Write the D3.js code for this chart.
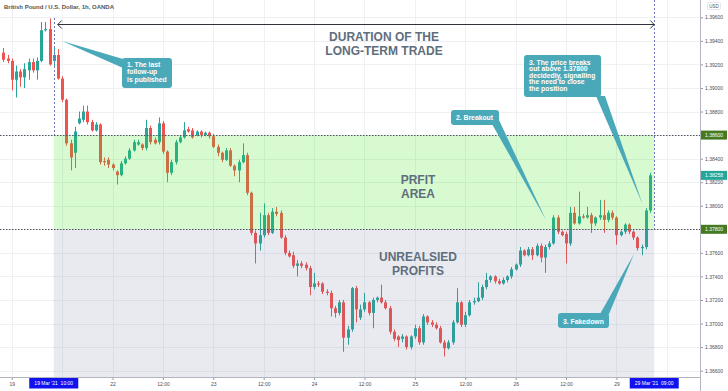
<!DOCTYPE html>
<html>
<head>
<meta charset="utf-8">
<title>GBP/USD 1h</title>
<script src="https://cdn.jsdelivr.net/npm/d3@7"></script>
<style>
  body { margin: 0; background: #ffffff; }
  svg { display: block; font-family: "Liberation Sans", Arial, sans-serif; }
</style>
</head>
<body>
<div id="chart"></div>
<script>

// GBP/USD hourly candles. index 0 = 19 Mar 00:00, weekend hours are skipped
var firstIndex = -2;

var opens = [
  1.3930, 1.3925, 1.3923, 1.3907, 1.3914, 1.3909, 1.3915, 1.3922, 1.3915, 1.3923, 1.3949, 1.3950,
  1.3923, 1.3928, 1.3908, 1.3890, 1.3853, 1.3845, 1.3870, 1.3873, 1.3880, 1.3871, 1.3864, 1.3869,
  1.3838, 1.3839, 1.3835, 1.3829, 1.3826, 1.3836, 1.3840, 1.3847, 1.3852, 1.3852, 1.3849, 1.3866,
  1.3856, 1.3854, 1.3870, 1.3846, 1.3828, 1.3837, 1.3854, 1.3858, 1.3865, 1.3864, 1.3860, 1.3863,
  1.3860, 1.3862, 1.3859, 1.3850, 1.3845, 1.3839, 1.3847, 1.3834, 1.3830, 1.3837, 1.3843, 1.3811,
  1.3777, 1.3768, 1.3775, 1.3792, 1.3777, 1.3795, 1.3794, 1.3773, 1.3760, 1.3758, 1.3749, 1.3751,
  1.3750, 1.3747, 1.3731, 1.3734, 1.3734, 1.3727, 1.3726, 1.3713, 1.3709, 1.3718, 1.3688, 1.3695,
  1.3730, 1.3705, 1.3712, 1.3718, 1.3709, 1.3720, 1.3722, 1.3718, 1.3713, 1.3693, 1.3689, 1.3687,
  1.3689, 1.3680, 1.3689, 1.3696, 1.3684, 1.3706, 1.3701, 1.3699, 1.3696, 1.3684, 1.3679, 1.3684,
  1.3701, 1.3718, 1.3699, 1.3707, 1.3718, 1.3719, 1.3722, 1.3731, 1.3737, 1.3740, 1.3736, 1.3734,
  1.3737, 1.3740, 1.3746, 1.3750, 1.3762, 1.3758, 1.3763, 1.3758, 1.3766, 1.3756, 1.3765, 1.3768,
  1.3790, 1.3778, 1.3776, 1.3768, 1.3794, 1.3785, 1.3791, 1.3790, 1.3792, 1.3785, 1.3790, 1.3792,
  1.3788, 1.3794, 1.3790, 1.3775, 1.3778, 1.3784, 1.3778, 1.3773, 1.3764, 1.3765, 1.3796
];
var highs = [
  1.3934, 1.3928, 1.3925, 1.3919, 1.3916, 1.3921, 1.3925, 1.3925, 1.3926, 1.3956, 1.3956, 1.3959,
  1.3934, 1.3933, 1.3910, 1.3891, 1.3856, 1.3867, 1.3880, 1.3885, 1.3885, 1.3873, 1.3871, 1.3870,
  1.3841, 1.3841, 1.3836, 1.3830, 1.3838, 1.3842, 1.3849, 1.3856, 1.3856, 1.3853, 1.3873, 1.3868,
  1.3858, 1.3875, 1.3872, 1.3847, 1.3839, 1.3856, 1.3860, 1.3871, 1.3867, 1.3866, 1.3864, 1.3864,
  1.3863, 1.3863, 1.3861, 1.3852, 1.3846, 1.3849, 1.3849, 1.3835, 1.3839, 1.3853, 1.3845, 1.3812,
  1.3779, 1.3794, 1.3802, 1.3794, 1.3798, 1.3799, 1.3796, 1.3775, 1.3762, 1.3761, 1.3754, 1.3753,
  1.3752, 1.3749, 1.3743, 1.3736, 1.3735, 1.3729, 1.3728, 1.3715, 1.3720, 1.3720, 1.3698, 1.3731,
  1.3732, 1.3716, 1.3726, 1.3719, 1.3722, 1.3723, 1.3733, 1.3720, 1.3715, 1.3695, 1.3690, 1.3691,
  1.3690, 1.3690, 1.3699, 1.3698, 1.3708, 1.3707, 1.3703, 1.3701, 1.3698, 1.3686, 1.3686, 1.3703,
  1.3730, 1.3719, 1.3710, 1.3720, 1.3722, 1.3735, 1.3733, 1.3743, 1.3741, 1.3741, 1.3738, 1.3739,
  1.3741, 1.3748, 1.3751, 1.3765, 1.3763, 1.3765, 1.3765, 1.3768, 1.3768, 1.3767, 1.3770, 1.3792,
  1.3792, 1.3779, 1.3778, 1.3799, 1.3799, 1.3812, 1.3793, 1.3799, 1.3794, 1.3791, 1.3805, 1.3805,
  1.3796, 1.3796, 1.3791, 1.3779, 1.3785, 1.3785, 1.3779, 1.3774, 1.3767, 1.3798, 1.3828
];
var lows = [
  1.3922, 1.3921, 1.3898, 1.3892, 1.3901, 1.3900, 1.3907, 1.3913, 1.3907, 1.3922, 1.3948, 1.3919,
  1.3918, 1.3907, 1.3888, 1.3851, 1.3830, 1.3832, 1.3869, 1.3871, 1.3869, 1.3863, 1.3863, 1.3835,
  1.3834, 1.3832, 1.3830, 1.3818, 1.3825, 1.3835, 1.3839, 1.3846, 1.3851, 1.3847, 1.3847, 1.3852,
  1.3852, 1.3852, 1.3844, 1.3820, 1.3826, 1.3835, 1.3853, 1.3857, 1.3862, 1.3857, 1.3859, 1.3858,
  1.3859, 1.3857, 1.3849, 1.3842, 1.3837, 1.3838, 1.3833, 1.3825, 1.3820, 1.3836, 1.3809, 1.3775,
  1.3751, 1.3762, 1.3773, 1.3775, 1.3776, 1.3791, 1.3772, 1.3758, 1.3756, 1.3747, 1.3740, 1.3747,
  1.3745, 1.3724, 1.3729, 1.3731, 1.3725, 1.3724, 1.3706, 1.3705, 1.3707, 1.3676, 1.3682, 1.3693,
  1.3701, 1.3703, 1.3710, 1.3707, 1.3696, 1.3718, 1.3717, 1.3712, 1.3691, 1.3685, 1.3680, 1.3684,
  1.3678, 1.3678, 1.3687, 1.3682, 1.3682, 1.3699, 1.3697, 1.3695, 1.3683, 1.3672, 1.3678, 1.3682,
  1.3700, 1.3697, 1.3697, 1.3706, 1.3716, 1.3718, 1.3720, 1.3729, 1.3735, 1.3734, 1.3733, 1.3733,
  1.3735, 1.3738, 1.3745, 1.3748, 1.3757, 1.3757, 1.3754, 1.3757, 1.3752, 1.3743, 1.3763, 1.3767,
  1.3776, 1.3774, 1.3751, 1.3766, 1.3784, 1.3784, 1.3789, 1.3789, 1.3777, 1.3783, 1.3788, 1.3777,
  1.3786, 1.3788, 1.3767, 1.3774, 1.3776, 1.3776, 1.3771, 1.3762, 1.3758, 1.3763, 1.3794
];
var closes = [
  1.3924, 1.3923, 1.3907, 1.3914, 1.3909, 1.3916, 1.3922, 1.3915, 1.3923, 1.3949, 1.3950, 1.3920,
  1.3928, 1.3908, 1.3890, 1.3853, 1.3841, 1.3863, 1.3874, 1.3880, 1.3871, 1.3864, 1.3869, 1.3837,
  1.3837, 1.3835, 1.3832, 1.3826, 1.3836, 1.3840, 1.3847, 1.3854, 1.3854, 1.3849, 1.3866, 1.3854,
  1.3853, 1.3870, 1.3846, 1.3828, 1.3837, 1.3854, 1.3858, 1.3864, 1.3863, 1.3858, 1.3863, 1.3860,
  1.3862, 1.3859, 1.3850, 1.3845, 1.3839, 1.3847, 1.3834, 1.3830, 1.3837, 1.3843, 1.3811, 1.3777,
  1.3768, 1.3775, 1.3792, 1.3777, 1.3795, 1.3793, 1.3773, 1.3760, 1.3757, 1.3749, 1.3751, 1.3749,
  1.3747, 1.3731, 1.3734, 1.3733, 1.3727, 1.3726, 1.3713, 1.3709, 1.3718, 1.3688, 1.3695, 1.3730,
  1.3712, 1.3712, 1.3718, 1.3709, 1.3720, 1.3722, 1.3718, 1.3713, 1.3693, 1.3687, 1.3686, 1.3689,
  1.3680, 1.3689, 1.3696, 1.3684, 1.3706, 1.3701, 1.3699, 1.3696, 1.3684, 1.3679, 1.3684, 1.3701,
  1.3718, 1.3699, 1.3707, 1.3718, 1.3719, 1.3722, 1.3731, 1.3737, 1.3740, 1.3736, 1.3734, 1.3737,
  1.3740, 1.3746, 1.3750, 1.3762, 1.3758, 1.3763, 1.3758, 1.3766, 1.3756, 1.3765, 1.3768, 1.3790,
  1.3778, 1.3775, 1.3768, 1.3794, 1.3785, 1.3791, 1.3790, 1.3792, 1.3785, 1.3790, 1.3792, 1.3788,
  1.3794, 1.3790, 1.3775, 1.3778, 1.3784, 1.3778, 1.3773, 1.3764, 1.3765, 1.3796, 1.38258
];

var tickIndex = [0, 12, 24, 36, 48, 60, 72, 84, 96, 108, 120, 132, 144, 156];
var tickLabels = ["19", "", "22", "12:00", "23", "12:00", "24", "12:00", "25", "12:00", "26", "12:00", "29", ""];
var priceTicks = [1.366, 1.368, 1.370, 1.372, 1.374, 1.376, 1.378, 1.380, 1.382, 1.384, 1.386, 1.388, 1.390, 1.392, 1.394, 1.396];

var targetLevel = 1.386;
var entryLevel = 1.378;
var tradeStart = 10;   // 19 Mar '21 10:00
var tradeEnd = 153;    // 29 Mar '21 09:00
var lastClose = closes[closes.length - 1];

var upColor = "#26a69a", downColor = "#ef5350";
var noteColor = "#4aa9b9", bigTextColor = "#5f6e7c";

var margin = {top: 0, right: 28, bottom: 14, left: 0};
var width = 728 - margin.left - margin.right;
var height = 391 - margin.top - margin.bottom;

var svg = d3.select("#chart")
  .append("svg")
    .attr("width", width + margin.left + margin.right)
    .attr("height", height + margin.top + margin.bottom);

var x = d3.scaleLinear().domain([-2.8, 163.9]).range([0, width]);
var y = d3.scaleLinear().domain([1.36546, 1.39747]).range([height, 0]);

svg.append("clipPath").attr("id", "plot")
  .append("rect").attr("width", width).attr("height", height);

// grid
var grid = svg.append("g").attr("stroke", "#eef0f4").attr("stroke-width", 1);
grid.selectAll(".v").data(tickIndex).join("line")
  .attr("x1", function(d) { return Math.round(x(d)) + 0.5 })
  .attr("x2", function(d) { return Math.round(x(d)) + 0.5 })
  .attr("y1", 0).attr("y2", height);
grid.selectAll(".h").data(priceTicks).join("line")
  .attr("y1", function(d) { return Math.round(y(d)) + 0.5 })
  .attr("y2", function(d) { return Math.round(y(d)) + 0.5 })
  .attr("x1", 0).attr("x2", width);

// candles
var idx = d3.range(opens.length);
var colorOf = function(k) { return closes[k] >= opens[k] ? upColor : downColor };
var cg = svg.append("g").attr("clip-path", "url(#plot)");
cg.selectAll(".wick").data(idx).join("line")
  .attr("x1", function(k) { return Math.round(x(firstIndex + k)) + 0.5 })
  .attr("x2", function(k) { return Math.round(x(firstIndex + k)) + 0.5 })
  .attr("y1", function(k) { return y(highs[k]) })
  .attr("y2", function(k) { return y(lows[k]) })
  .attr("stroke", colorOf);
cg.selectAll(".body").data(idx).join("rect")
  .attr("x", function(k) { return Math.round(x(firstIndex + k)) - 1 })
  .attr("width", 3)
  .attr("y", function(k) { return y(Math.max(opens[k], closes[k])) })
  .attr("height", function(k) { return Math.max(1, Math.abs(y(opens[k]) - y(closes[k]))) })
  .attr("fill", colorOf);

// profit / unrealised zones, drawn over the candles
svg.append("rect")
  .attr("x", x(tradeStart)).attr("width", x(tradeEnd) - x(tradeStart))
  .attr("y", y(targetLevel)).attr("height", y(entryLevel) - y(targetLevel))
  .attr("fill", "rgba(56,230,20,0.2)");
svg.append("rect")
  .attr("x", x(tradeStart)).attr("width", x(tradeEnd) - x(tradeStart))
  .attr("y", y(entryLevel)).attr("height", height - y(entryLevel))
  .attr("fill", "rgba(110,115,150,0.15)");

// dotted levels
svg.selectAll(".lvl").data([targetLevel, entryLevel]).join("line")
  .attr("x1", 0).attr("x2", width)
  .attr("y1", function(d) { return Math.round(y(d)) + 0.5 })
  .attr("y2", function(d) { return Math.round(y(d)) + 0.5 })
  .attr("stroke", "#50545e").attr("stroke-dasharray", "1.5,1.5");

// vertical dashed markers
svg.append("line")
  .attr("x1", Math.round(x(tradeStart)) + 0.5).attr("x2", Math.round(x(tradeStart)) + 0.5)
  .attr("y1", 18).attr("y2", y(targetLevel))
  .attr("stroke", "#7478c4").attr("stroke-dasharray", "2,2");
svg.append("line")
  .attr("x1", Math.round(x(tradeEnd)) + 0.5).attr("x2", Math.round(x(tradeEnd)) + 0.5)
  .attr("y1", 0).attr("y2", y(entryLevel))
  .attr("stroke", "#7478c4").attr("stroke-dasharray", "2,2");

// duration arrow
var ax1 = x(tradeStart) + 4, ax2 = x(tradeEnd), ay = 24.5;
svg.append("line").attr("x1", ax1).attr("x2", ax2).attr("y1", ay).attr("y2", ay)
  .attr("stroke", "#2f3238").attr("stroke-width", 1);
svg.append("path")
  .attr("d", "M" + (ax1 + 4) + "," + (ay - 4) + "L" + ax1 + "," + ay + "L" + (ax1 + 4) + "," + (ay + 4) +
             "M" + (ax2 - 4) + "," + (ay - 4) + "L" + ax2 + "," + ay + "L" + (ax2 - 4) + "," + (ay + 4))
  .attr("fill", "none").attr("stroke", "#2f3238").attr("stroke-width", 1);

// big labels
var bigText = function(lines, cx, y0) {
  svg.append("g").selectAll("text").data(lines).join("text")
    .attr("x", cx).attr("y", function(d, i) { return y0 + i * 14 })
    .attr("text-anchor", "middle")
    .attr("font-size", "12px").attr("font-weight", "bold")
    .attr("fill", bigTextColor)
    .text(function(d) { return d });
};
bigText(["DURATION OF THE", "LONG-TERM TRADE"], 384, 41);
bigText(["PRFIT", "AREA"], 418, 184);
bigText(["UNREALSIED", "PROFITS"], 418, 260.5);

// callouts
var callout = function(box, tail, lines, lineH, baseY) {
  var g = svg.append("g");
  g.append("path").attr("d", "M" + tail.join("L") + "Z").attr("fill", noteColor);
  g.append("rect").attr("x", box[0]).attr("y", box[1]).attr("width", box[2]).attr("height", box[3])
    .attr("rx", 3).attr("fill", noteColor);
  g.selectAll("text").data(lines).join("text")
    .attr("x", box[0] + 5).attr("y", function(d, i) { return baseY + i * lineH })
    .attr("font-size", "6.8px").attr("font-weight", "bold").attr("fill", "#ffffff")
    .text(function(d) { return d });
};
callout([122, 58, 50, 30], [[62, 41], [123, 59], [123, 68]],
  ["1. The last", "follow-up", "is published"], 7.3, 67);
callout([451, 110, 48, 15], [[492, 124], [499, 120], [546, 220]],
  ["2. Breakout"], 7, 120);
callout([558, 313, 51, 15], [[600, 314], [609, 314], [634, 254]],
  ["3. Fakedown"], 7, 323.5);
callout([524, 55, 77, 42], [[596, 96], [605, 96], [642.5, 204]],
  ["3. The price breaks", "out above 1.37800", "decidedly, signalling", "the need to close", "the position"], 6.4, 65);

// header
svg.append("text").attr("x", 4).attr("y", 9)
  .attr("font-size", "6px").attr("font-weight", "bold").attr("fill", "#555")
  .text("British Pound / U.S. Dollar, 1h, OANDA");

// axes
var yAxis = d3.axisRight(y).tickValues(priceTicks).tickFormat(d3.format(".5f"))
  .tickSize(3).tickPadding(2).tickSizeOuter(0);
var gy = svg.append("g").attr("transform", "translate(" + width + ",0)").call(yAxis);
gy.select(".domain").remove();
gy.selectAll("line").attr("stroke", "#9598a1");
gy.selectAll("text").attr("font-size", "5px").attr("fill", "#4a4d55").attr("font-family", null);

var xAxis = d3.axisBottom(x).tickValues(tickIndex)
  .tickFormat(function(d, i) { return tickLabels[i] })
  .tickSize(3).tickPadding(2).tickSizeOuter(0);
var gx = svg.append("g").attr("transform", "translate(0," + height + ")").call(xAxis);
gx.select(".domain").remove();
gx.selectAll("line").attr("stroke", "#9598a1");
gx.selectAll("text").attr("font-size", "5px").attr("fill", "#4a4d55").attr("font-family", null);

svg.append("line").attr("x1", width + 0.5).attr("x2", width + 0.5).attr("y1", 0).attr("y2", height + margin.bottom)
  .attr("stroke", "#b2b5be");
svg.append("line").attr("x1", 0).attr("x2", width).attr("y1", height + 0.5).attr("y2", height + 0.5)
  .attr("stroke", "#b2b5be");

// USD label
svg.append("rect").attr("x", 707.5).attr("y", 2.5).attr("width", 13).attr("height", 7)
  .attr("rx", 1.5).attr("fill", "#fff").attr("stroke", "#d4d6dc").attr("stroke-width", 0.6);
svg.append("text").attr("x", 714).attr("y", 7.6).attr("text-anchor", "middle")
  .attr("font-size", "4.5px").attr("fill", "#555").text("USD");

// price badges on the right scale
var badges = [
  {v: targetLevel, c: "#477a20"},
  {v: entryLevel, c: "#477a20"},
  {v: lastClose, c: upColor}
];
badges.forEach(function(b) {
  var cy = y(b.v);
  svg.append("rect").attr("x", width + 1).attr("y", cy - 4.5).attr("width", 26).attr("height", 9)
    .attr("fill", b.c);
  svg.append("text").attr("x", width + 5).attr("y", cy + 1.8)
    .attr("font-size", "5px").attr("fill", "#fff").text(d3.format(".5f")(b.v));
});

// date badges on the time scale
[{i: tradeStart, t: "19 Mar '21  10:00"}, {i: tradeEnd, t: "29 Mar '21  09:00"}].forEach(function(b) {
  var cx = x(b.i);
  svg.append("rect").attr("x", cx - 24.5).attr("y", height + 1).attr("width", 49).attr("height", 10.5)
    .attr("fill", "#1212ee");
  svg.append("text").attr("x", cx).attr("y", height + 8)
    .attr("text-anchor", "middle").style("white-space", "pre")
    .attr("font-size", "5px").attr("fill", "#fff").text(b.t);
});

</script>
</body>
</html>
